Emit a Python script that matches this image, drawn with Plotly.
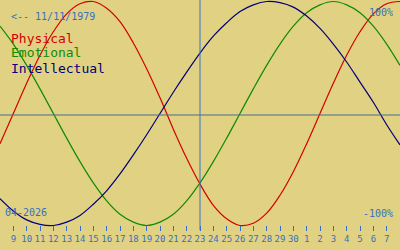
import plotly.graph_objects as go

# Day index 0 = 9 April 2026; series sampled daily from index -1 to 29
days = list(range(-1, 30))
tick_days = list(range(0, 29))
tick_labels = ["9", "10", "11", "12", "13", "14", "15", "16", "17", "18", "19", "20",
               "21", "22", "23", "24", "25", "26", "27", "28", "29", "30",
               "1", "2", "3", "4", "5", "6", "7"]
today = 14

physical = [-0.27, 0.00, 0.27, 0.52, 0.73, 0.89, 0.98, 1.00, 0.94, 0.82, 0.63, 0.40,
            0.14, -0.14, -0.40, -0.63, -0.82, -0.94, -1.00, -0.98, -0.89, -0.73,
            -0.52, -0.27, 0.00, 0.27, 0.52, 0.73, 0.89, 0.98, 1.00]
emotional = [0.78, 0.62, 0.43, 0.22, 0.00, -0.22, -0.43, -0.62, -0.78, -0.90, -0.97,
             -1.00, -0.97, -0.90, -0.78, -0.62, -0.43, -0.22, 0.00, 0.22, 0.43, 0.62,
             0.78, 0.90, 0.97, 1.00, 0.97, 0.90, 0.78, 0.62, 0.43]
intellectual = [-0.76, -0.87, -0.95, -0.99, -1.00, -0.97, -0.91, -0.81, -0.69, -0.54,
                -0.37, -0.19, 0.00, 0.19, 0.37, 0.54, 0.69, 0.81, 0.91, 0.97, 1.00,
                0.99, 0.95, 0.87, 0.76, 0.62, 0.46, 0.28, 0.10, -0.10, -0.28]

series_names = ["Physical", "Emotional", "Intellectual"]
birth_label = "<-- 11/11/1979"
month_label = "04-2026"

BG = "#e0d282"
RED = "#d40000"
GREEN = "#108a00"
NAVY = "#00007a"
BLUE = "#3a6ec4"
MONO = "DejaVu Sans Mono"

fig = go.Figure()
for vals, col in [(physical, RED), (emotional, GREEN), (intellectual, NAVY)]:
    fig.add_trace(go.Scatter(x=days, y=vals, mode="lines",
                             line=dict(color=col, width=1.2, shape="spline", smoothing=1.0),
                             hoverinfo="skip", showlegend=False, cliponaxis=False))

fig.update_layout(
    width=400, height=250,
    margin=dict(l=0, r=0, t=0, b=0),
    paper_bgcolor=BG, plot_bgcolor=BG,
    showlegend=False,
    xaxis=dict(range=[-1, 29], showgrid=False, zeroline=False, showline=False,
               anchor="free", position=0.1,
               tickmode="array", tickvals=tick_days, ticktext=tick_labels,
               ticks="outside", ticklen=5, tickwidth=1, tickcolor=BLUE,
               tickfont=dict(family=MONO, size=9, color=BLUE)),
    yaxis=dict(range=[-1.2188, 1.0134], showgrid=False, zeroline=False,
               showline=False, showticklabels=False, ticks=""),
)

# today line and centre line
fig.add_shape(type="line", xref="x", yref="paper", x0=today, x1=today,
              y0=0.08, y1=1, line=dict(color=BLUE, width=1))
fig.add_shape(type="line", xref="paper", yref="paper", x0=0, x1=1,
              y0=0.54, y1=0.54, line=dict(color="#4a6a8c", width=1))

def txt(x, y, s, col, size, xanchor="left"):
    fig.add_annotation(xref="paper", yref="paper", x=x, y=y, text=s, showarrow=False,
                       xanchor=xanchor, yanchor="middle",
                       font=dict(family=MONO, size=size, color=col))

txt(0.022, 1 - 16 / 250, birth_label, BLUE, 10)
txt(0.022, 1 - 38 / 250, series_names[0], RED, 13)
txt(0.022, 1 - 53 / 250, series_names[1], GREEN, 13)
txt(0.022, 1 - 68 / 250, series_names[2], NAVY, 13)
txt(0.988, 1 - 12 / 250, "100%", BLUE, 10, "right")
txt(0.988, 1 - 213 / 250, "-100%", BLUE, 10, "right")
txt(0.008, 1 - 212 / 250, month_label, BLUE, 10)

fig.write_html("out.html")
